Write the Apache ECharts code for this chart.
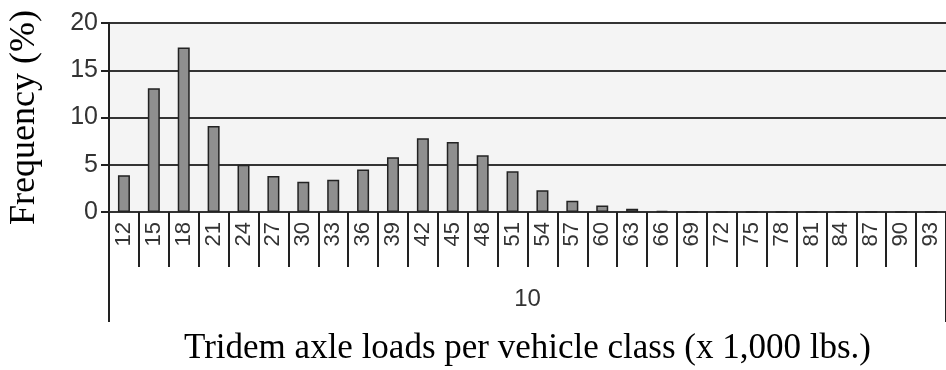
<!DOCTYPE html>
<html>
<head>
<meta charset="utf-8">
<script src="https://cdn.jsdelivr.net/npm/echarts@6/dist/echarts.min.js"></script>
<style>
html,body{margin:0;padding:0;background:#fff;}
#chart{width:946px;height:370px;}
</style>
</head>
<body>
<div id="chart"></div>
<script>
const categories = ['12','15','18','21','24','27','30','33','36','39','42','45','48','51','54','57','60','63','66','69','72','75','78','81','84','87','90','93'];
const frequency = [3.9,13.1,17.4,9.1,5.0,3.8,3.2,3.4,4.5,5.8,7.8,7.4,6.0,4.3,2.3,1.2,0.7,0.35,0.12,0,0,0,0,0,0,0,0,0];
const groupLabels = ['10'];
const yTitle = 'Frequency (%)';
const xTitle = 'Tridem axle loads per vehicle class (x 1,000 lbs.)';

const chart = echarts.init(document.getElementById('chart'), null, {renderer:'canvas'});
chart.setOption({
  animation:false,
  backgroundColor:'#ffffff',
  grid:{left:109,right:0,top:23,bottom:158,show:true,backgroundColor:'#f4f4f4',borderWidth:0,containLabel:false,outerBoundsMode:'none'},
  xAxis:[{
    type:'category',
    data:categories,
    position:'bottom',
    axisLine:{show:true,lineStyle:{color:'#333',width:2}},
    axisTick:{show:true,interval:0,length:55,lineStyle:{color:'#222',width:2}},
    axisLabel:{interval:0,rotate:90,margin:10,fontFamily:'Liberation Sans',fontSize:22,color:'#333'}
  },{
    type:'category',
    data:groupLabels,
    position:'bottom',
    axisLine:{show:false},
    axisTick:{show:true,interval:0,length:110,lineStyle:{color:'#222',width:2}},
    axisLabel:{interval:0,margin:75,fontFamily:'Liberation Sans',fontSize:24,color:'#333'},
    name:xTitle,
    nameLocation:'middle',
    nameGap:119,
    nameTextStyle:{fontFamily:'Liberation Serif',fontSize:35,color:'#000'}
  }],
  yAxis:{
    type:'value',
    min:0,max:20,interval:5,
    axisLine:{show:true,lineStyle:{color:'#222',width:2}},
    axisTick:{show:true,length:8,lineStyle:{color:'#222',width:2}},
    axisLabel:{margin:11,fontFamily:'Liberation Sans',fontSize:25,color:'#333'},
    splitLine:{show:true,lineStyle:{color:'#333',width:2}},
    name:yTitle,
    nameLocation:'middle',
    nameGap:66,
    nameTextStyle:{fontFamily:'Liberation Serif',fontSize:36,color:'#000'}
  },
  series:[{
    type:'bar',
    xAxisIndex:0,
    data:frequency,
    barWidth:12,
    itemStyle:{color:'#8f8f8f',borderColor:'#222',borderWidth:1.5}
  }]
});
</script>
</body>
</html>
